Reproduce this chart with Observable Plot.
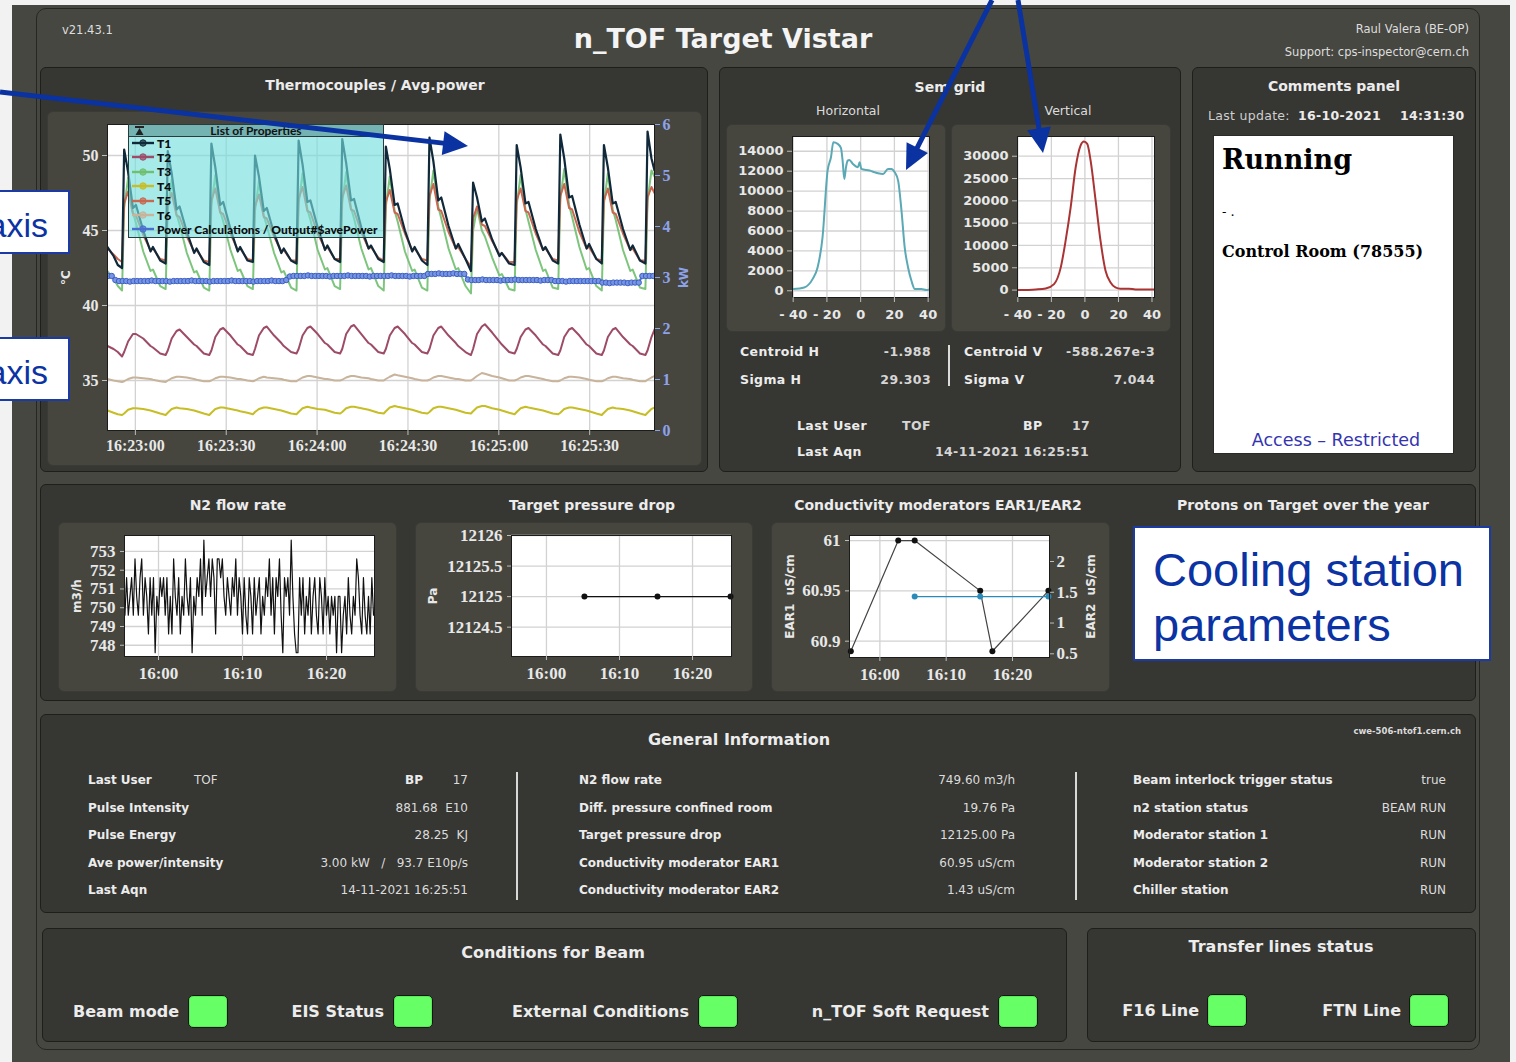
<!DOCTYPE html>
<html>
<head>
<meta charset="utf-8">
<title>n_TOF Target Vistar</title>
<script src="https://cdn.jsdelivr.net/npm/d3@7"></script>
<script src="https://cdn.jsdelivr.net/npm/@observablehq/plot@0.6"></script>
<style>
  html, body { margin: 0; padding: 0; }
  body { width: 1516px; height: 1062px; position: relative; overflow: hidden; background: #f2f2f2;
         font-family: "DejaVu Sans", sans-serif; color: #ececec; }
  .abs { position: absolute; box-sizing: border-box; }
  .screen { background: #474741; }
  .frame { border: 1px solid #262622; border-radius: 10px; }
  .panel { background: #363632; border: 1px solid #1e1e1b; border-radius: 6px; }
  .box { background: #46463f; border: 1px solid #3b3b36; border-radius: 6px; }
  .paper { background: #ffffff; border: 1px solid #2a2a26; }
  .txt { position: absolute; white-space: nowrap; line-height: 1; }
  .led { background: #66ff66; border: 1px solid #151513; border-radius: 5px; box-shadow: inset 0 0 0 1px #5be85b; }
  .note { background: #fff; border: 2px solid #1c3aa6; }
  .legend { background: rgba(118, 222, 222, 0.64); border: 1px solid #2b3b3b; }
  .legend-head { background: rgba(112, 172, 172, 0.9); border-bottom: 1px solid #2b3b3b; }
</style>
</head>
<body>
<script>
// ---------------------------------------------------------------
// Data
// ---------------------------------------------------------------
const versionLabel = "v21.43.1";
const pageTitle = "n_TOF Target Vistar";
const authorLine = "Raul Valera (BE-OP)";
const supportLine = "Support: cps-inspector@cern.ch";

// Thermocouples: seconds relative to 16:23:00 (14-11-2021)
const tcSec = [
  -9.2, -7.2, -5.8,
  -4.4, -3.7, -2.4, -0.8, 0.2, 2.6, 5.0, 5.8, 8.2,
  10.0, 10.7, 12.0, 13.6, 14.6, 17.0, 19.4, 20.2, 22.6,
  24.4, 25.1, 26.4, 28.0, 29.0, 31.4, 33.8, 34.6, 37.0,
  38.8, 39.5, 40.8, 42.4, 43.4, 45.8, 48.2, 49.0, 51.4,
  53.2, 53.9, 55.2, 56.8, 57.8, 60.2, 62.6, 63.4, 65.8,
  67.6, 68.3, 69.6, 71.2, 72.2, 74.6, 77.0, 77.8, 80.2,
  82.0, 82.7, 84.0, 85.6, 86.6, 89.0, 91.4, 92.2, 94.6,
  96.4, 97.1, 98.4, 100.0, 101.0, 103.4, 105.8, 106.6, 109.0,
  110.8, 111.5, 112.8, 114.4, 115.4, 117.8, 120.2, 121.0, 123.4,
  125.2, 125.9, 127.2, 128.8, 129.8, 132.2, 134.6, 135.4, 137.8,
  139.6, 140.3, 141.6, 143.2, 144.2, 146.6, 149.0, 149.8, 152.2,
  154.0, 154.7, 156.0, 157.6, 158.6, 161.0, 163.4, 164.2, 166.6,
  168.4, 169.1, 170.4, 171.4
];
const t1Values = [
  43.9, 43.3, 42.7,
  42.5, 50.4, 48.9, 46.5, 46.7, 45.0, 43.6, 43.9, 43.0,
  42.8, 50.3, 48.8, 46.4, 46.6, 44.9, 43.5, 43.8, 42.9,
  42.7, 50.8, 49.2, 46.7, 46.9, 45.1, 43.6, 43.9, 43.0,
  42.9, 50.0, 48.6, 46.3, 46.5, 44.8, 43.5, 43.8, 43.0,
  42.8, 51.0, 49.4, 46.9, 47.0, 45.2, 43.7, 44.0, 43.1,
  42.9, 51.1, 49.5, 47.0, 47.1, 45.2, 43.8, 44.0, 43.1,
  42.9, 50.6, 49.1, 46.7, 46.8, 45.0, 43.6, 43.9, 43.0,
  42.7, 51.2, 49.6, 47.0, 47.2, 45.3, 43.8, 44.1, 43.1,
  42.3, 48.2, 47.2, 45.6, 45.8, 44.4, 43.3, 43.5, 42.8,
  42.7, 50.7, 49.2, 46.8, 46.9, 45.1, 43.7, 43.9, 43.0,
  42.8, 51.4, 49.8, 47.2, 47.3, 45.4, 43.8, 44.1, 43.1,
  42.8, 50.7, 49.2, 46.8, 46.9, 45.1, 43.7, 44.0, 43.0,
  42.8, 51.6, 49.8, 49.0
];
const t2Values = [
  37.3, 37.1, 36.9,
  36.6, 36.9, 37.6, 38.1, 38.1, 37.8, 37.3, 37.2, 36.8,
  36.7, 37.0, 37.8, 38.3, 38.4, 37.9, 37.4, 37.3, 36.8,
  36.7, 37.0, 37.9, 38.4, 38.5, 38.0, 37.4, 37.3, 36.8,
  36.7, 37.1, 38.0, 38.5, 38.6, 38.0, 37.5, 37.3, 36.9,
  36.8, 37.1, 38.0, 38.5, 38.6, 38.1, 37.5, 37.4, 36.9,
  36.8, 37.1, 38.1, 38.6, 38.7, 38.1, 37.5, 37.4, 36.9,
  36.8, 37.1, 38.0, 38.5, 38.6, 38.1, 37.5, 37.4, 36.9,
  36.8, 37.1, 38.0, 38.5, 38.6, 38.0, 37.5, 37.3, 36.9,
  36.7, 37.1, 38.1, 38.6, 38.75, 38.2, 37.6, 37.4, 36.9,
  36.8, 37.1, 37.9, 38.4, 38.5, 38.0, 37.4, 37.3, 36.8,
  36.7, 37.0, 37.9, 38.4, 38.5, 38.0, 37.4, 37.3, 36.8,
  36.7, 37.0, 37.9, 38.4, 38.5, 37.9, 37.4, 37.3, 36.8,
  36.7, 37.0, 37.9, 38.4
];
const t3Values = [
  42.3, 41.8, 41.3,
  41.0, 46.5, 48.5, 46.2, 45.5, 43.6, 42.3, 42.4, 41.3,
  41.1, 46.4, 48.4, 46.1, 45.4, 43.5, 42.2, 42.3, 41.2,
  41.0, 46.7, 48.7, 46.3, 45.6, 43.7, 42.3, 42.4, 41.3,
  41.1, 46.3, 48.3, 46.0, 45.3, 43.5, 42.2, 42.3, 41.2,
  41.0, 46.8, 48.8, 46.4, 45.7, 43.7, 42.4, 42.5, 41.3,
  41.1, 46.9, 48.9, 46.5, 45.8, 43.8, 42.4, 42.5, 41.3,
  41.0, 46.6, 48.6, 46.3, 45.6, 43.6, 42.3, 42.4, 41.2,
  41.0, 47.0, 49.0, 46.6, 45.8, 43.8, 42.4, 42.5, 41.3,
  40.8, 45.0, 46.5, 45.0, 44.6, 43.2, 42.0, 42.1, 41.1,
  41.0, 46.7, 48.7, 46.4, 45.6, 43.7, 42.3, 42.4, 41.2,
  41.1, 47.1, 49.1, 46.7, 45.9, 43.9, 42.4, 42.5, 41.3,
  41.0, 46.8, 48.8, 46.4, 45.7, 43.7, 42.3, 42.4, 41.2,
  41.1, 47.0, 49.0, 48.6
];
const t4Values = [
  33.0, 32.85, 32.75,
  32.7, 32.8, 33.05, 33.15, 33.15, 33.1, 33.0, 32.95, 32.8,
  32.7, 32.85, 33.1, 33.2, 33.15, 33.1, 33.0, 32.95, 32.8,
  32.7, 32.85, 33.1, 33.2, 33.2, 33.1, 33.0, 32.95, 32.85,
  32.75, 32.9, 33.1, 33.2, 33.2, 33.1, 33.0, 32.95, 32.8,
  32.75, 32.9, 33.15, 33.25, 33.2, 33.1, 33.05, 33.0, 32.85,
  32.8, 32.9, 33.15, 33.25, 33.25, 33.15, 33.05, 33.0, 32.85,
  32.8, 32.95, 33.2, 33.3, 33.25, 33.15, 33.05, 33.0, 32.85,
  32.8, 32.9, 33.15, 33.25, 33.25, 33.15, 33.05, 33.0, 32.85,
  32.8, 32.95, 33.2, 33.3, 33.3, 33.15, 33.05, 33.0, 32.85,
  32.75, 32.9, 33.15, 33.25, 33.2, 33.1, 33.0, 32.95, 32.8,
  32.75, 32.85, 33.1, 33.2, 33.2, 33.1, 33.0, 32.95, 32.8,
  32.7, 32.85, 33.1, 33.2, 33.15, 33.1, 33.0, 32.95, 32.8,
  32.7, 32.85, 33.1, 33.2
];
const t5Values = [
  43.8, 43.4, 43.1,
  42.9, 46.8, 47.6, 46.1, 46.0, 44.7, 43.7, 43.8, 43.1,
  43.0, 46.7, 47.5, 46.0, 45.9, 44.6, 43.6, 43.7, 43.0,
  42.9, 47.0, 47.8, 46.2, 46.1, 44.8, 43.7, 43.8, 43.1,
  43.0, 46.6, 47.4, 45.9, 45.8, 44.6, 43.6, 43.7, 43.0,
  43.0, 47.1, 47.9, 46.3, 46.2, 44.8, 43.8, 43.9, 43.1,
  43.1, 47.2, 48.0, 46.4, 46.3, 44.9, 43.8, 43.9, 43.2,
  43.0, 46.9, 47.7, 46.2, 46.1, 44.8, 43.7, 43.8, 43.1,
  43.0, 47.3, 48.1, 46.4, 46.3, 44.9, 43.8, 43.9, 43.1,
  42.6, 45.8, 46.6, 45.4, 45.3, 44.3, 43.4, 43.5, 42.9,
  42.9, 47.0, 47.8, 46.3, 46.2, 44.8, 43.7, 43.8, 43.1,
  43.0, 47.3, 48.1, 46.5, 46.4, 44.9, 43.8, 43.9, 43.1,
  43.0, 47.0, 47.8, 46.2, 46.1, 44.8, 43.7, 43.8, 43.0,
  43.0, 47.2, 47.9, 47.5
];
const t6Values = [
  35.1, 35.0, 34.95,
  34.9, 34.95, 35.1, 35.2, 35.2, 35.15, 35.1, 35.05, 34.95,
  34.9, 35.0, 35.15, 35.25, 35.25, 35.2, 35.1, 35.05, 34.95,
  34.95, 35.0, 35.15, 35.25, 35.25, 35.2, 35.1, 35.1, 35.0,
  34.95, 35.0, 35.15, 35.25, 35.2, 35.15, 35.1, 35.05, 34.95,
  34.95, 35.05, 35.2, 35.3, 35.3, 35.2, 35.1, 35.1, 35.0,
  35.0, 35.05, 35.2, 35.3, 35.3, 35.2, 35.15, 35.1, 35.0,
  35.0, 35.1, 35.25, 35.4, 35.35, 35.25, 35.15, 35.1, 35.0,
  35.0, 35.05, 35.2, 35.3, 35.3, 35.2, 35.1, 35.1, 35.0,
  35.0, 35.1, 35.3, 35.5, 35.45, 35.3, 35.2, 35.15, 35.0,
  35.0, 35.05, 35.2, 35.3, 35.3, 35.2, 35.1, 35.05, 34.95,
  34.95, 35.0, 35.15, 35.25, 35.25, 35.2, 35.1, 35.05, 34.95,
  34.95, 35.0, 35.15, 35.25, 35.25, 35.15, 35.1, 35.05, 34.95,
  34.95, 35.05, 35.2, 35.3
];
const tcNames = ["T1", "T2", "T3", "T4", "T5", "T6"];
const powerName = "Power Calculations / Output#$avePower";

// Average power (kW), one acquisition every 1.2 s from 16:22:51
const powerStartSec = -9.0;
const powerStepSec = 1.2;
const powerKw = [
  3.03, 3.03, 2.95, 2.93, 2.93, 2.93, 2.92, 2.93, 2.93, 2.93,
  2.93, 2.93, 2.94, 2.93, 2.93, 2.93, 2.93, 2.92, 2.93, 2.93,
  2.93, 2.93, 2.93, 2.94, 2.93, 2.93, 2.93, 2.93, 2.92, 2.93,
  2.93, 2.93, 2.93, 2.93, 2.94, 2.93, 2.93, 2.93, 2.93, 2.93,
  2.92, 2.93, 2.93, 2.93, 2.93, 2.94, 2.93, 2.93, 2.93, 2.95,
  3.02, 3.03, 3.03, 3.03, 3.03, 3.04, 3.03, 3.03, 3.03, 3.03,
  3.03, 3.02, 3.03, 3.03, 3.03, 3.03, 3.04, 3.03, 3.03, 3.03,
  3.03, 3.03, 3.02, 3.03, 3.03, 3.03, 3.03, 3.03, 3.04, 3.03,
  3.03, 3.03, 3.03, 3.02, 3.03, 3.03, 3.03, 3.03, 3.07, 3.07,
  3.07, 3.08, 3.07, 3.07, 3.07, 3.08, 3.07, 3.07, 3.07, 2.96,
  2.95, 2.95, 2.95, 2.96, 2.95, 2.95, 2.95, 2.95, 2.94, 2.95,
  2.95, 2.95, 2.96, 2.95, 2.95, 2.95, 2.95, 2.95, 2.95, 2.94,
  2.95, 2.95, 2.95, 2.93, 2.93, 2.93, 2.92, 2.93, 2.93, 2.93,
  2.93, 2.93, 2.93, 2.93, 2.93, 2.93, 2.90, 2.90, 2.89, 2.90,
  2.90, 2.90, 2.90, 2.89, 2.90, 2.90, 2.90, 3.03, 3.03, 3.03,
  3.03
];
const thermoTickLabels = ["16:23:00", "16:23:30", "16:24:00", "16:24:30", "16:25:00", "16:25:30"];
const tempTicks = [35, 40, 45, 50];
const kwTicks = [0, 1, 2, 3, 4, 5, 6];

// SEM grid beam profiles
const hProfilePos = [-40, -33.5, -28.5, -25.5, -22.6, -19.6, -17.6, -16.2, -13.6, -11.7, -10.7, -9.7, -8.7, -7.7,
  -6.7, -4.6, -1.6, -0.6, 0.4, 5.3, 8.3, 10.3, 13.3, 16.2, 18.2, 20.2, 22.2, 24.2, 26.1, 28.1, 30.1, 32.1, 36, 39, 41.4];
const hProfileCounts = [170, 335, 1170, 2350, 5360, 12060, 13400, 14900, 14740, 14330, 13060, 11220, 12400, 13060,
  13130, 12730, 12400, 12900, 12230, 12060, 11890, 11790, 11720, 12230, 12230, 11890, 11050, 8040, 4350, 2340, 1000, 170, 170, 70, 170];
const vProfilePos = [-40, -29.3, -23.4, -18.4, -14.4, -11.5, -8.5, -5.5, -2.6, -0.6, 1.4, 3.4, 6.4, 9.3, 12.3, 15.3, 18.2, 21.2, 26.2, 30.1, 41.5];
const vProfileCounts = [0, 150, 370, 1350, 5090, 11070, 18550, 27530, 32400, 33290, 32760, 29020, 20050, 11070, 4340, 1720, 600, 300, 300, 150, 150];
const semPosTicks = [-40, -20, 0, 20, 40];
const semHTicks = [0, 2000, 4000, 6000, 8000, 10000, 12000, 14000];
const semVTicks = [0, 5000, 10000, 15000, 20000, 25000, 30000];
const semStatsH = [["Centroid H", "-1.988"], ["Sigma H", "29.303"]];
const semStatsV = [["Centroid V", "-588.267e-3"], ["Sigma V", "7.044"]];

// N2 flow rate (m3/h), one sample every 12 s from 15:56:00
const n2Start = "15:56:00";
const n2StepSec = 12;
const n2Flow = [
  749.6, 751.6, 749.6, 750.6, 751.6, 749.6, 752.6, 750.6, 749.6, 751.6,
  752.6, 749.6, 751.6, 750.6, 748.6, 751.6, 749.6, 751.6, 747.6, 750.6,
  749.6, 751.6, 750.6, 751.6, 749.6, 751.6, 748.6, 750.6, 748.6, 752.6,
  750.6, 749.6, 751.6, 748.6, 750.6, 749.6, 752.6, 750.6, 749.6, 751.6,
  747.6, 750.6, 749.6, 751.6, 750.6, 752.6, 749.6, 753.6, 750.6, 751.6,
  752.6, 750.6, 752.6, 751.6, 748.6, 752.6, 752.6, 751.6, 752.6, 750.6,
  749.6, 751.6, 750.6, 749.6, 751.6, 750.6, 752.6, 749.6, 751.6, 750.6,
  748.6, 751.6, 749.6, 748.6, 751.6, 750.6, 748.6, 751.6, 749.6, 750.6,
  751.6, 748.6, 750.6, 749.6, 751.6, 750.6, 752.6, 749.6, 751.6, 748.6,
  751.6, 750.6, 752.6, 749.6, 747.6, 751.6, 750.6, 751.6, 749.6, 753.6,
  750.6, 748.6, 747.6, 747.6, 751.6, 749.6, 751.6, 748.6, 750.6, 749.6,
  751.6, 748.6, 750.6, 751.6, 749.6, 748.6, 751.6, 750.6, 748.6, 751.6,
  749.6, 750.6, 748.6, 750.6, 749.6, 750.6, 747.6, 750.6, 750.6, 747.6,
  749.6, 750.6, 748.6, 751.6, 749.6, 748.6, 750.6, 749.6, 752.6, 751.6,
  749.6, 748.6, 751.6, 749.6, 748.6, 750.6, 748.6, 751.6, 749.6, 749.6
];
const n2Ticks = [748, 749, 750, 751, 752, 753];
const clockTicks = ["16:00", "16:10", "16:20"];

// Target pressure drop (Pa)
const pressureTimes = ["16:05:12", "16:15:12", "16:25:12"];
const pressureValues = [12125, 12125, 12125];
const pressureTicks = [12124.5, 12125, 12125.5, 12126];

// Moderator conductivity (uS/cm)
const ear1Times = ["15:55:37", "16:02:46", "16:05:15", "16:15:08", "16:16:58", "16:25:25"];
const ear1Values = [60.89, 61.0, 61.0, 60.95, 60.89, 60.95];
const ear2Times = ["16:05:15", "16:15:08", "16:25:25"];
const ear2Values = [1.43, 1.43, 1.43];
const ear1Ticks = [60.9, 60.95, 61];
const ear2Ticks = [0.5, 1, 1.5, 2];

// Comments panel
const commentUpdate = ["Last update:", "16-10-2021", "14:31:30"];
const commentStatus = "Running";
const commentNote = "- .";
const commentContact = "Control Room (78555)";
const commentAccess = "Access \u2013 Restricted";

// General information
const infoHost = "cwe-506-ntof1.cern.ch";
const infoBeamUser = ["Last User", "TOF", "BP", "17"];
const infoCol1 = [["Pulse Intensity", "881.68  E10"], ["Pulse Energy", "28.25  KJ"],
  ["Ave  power/intensity", "3.00 kW   /   93.7 E10p/s"], ["Last Aqn", "14-11-2021 16:25:51"]];
const infoCol2 = [["N2 flow rate", "749.60 m3/h"], ["Diff. pressure confined room", "19.76 Pa"],
  ["Target pressure drop", "12125.00 Pa"], ["Conductivity moderator EAR1", "60.95 uS/cm"],
  ["Conductivity moderator EAR2", "1.43 uS/cm"]];
const infoCol3 = [["Beam interlock trigger status", "true"], ["n2 station status", "BEAM RUN"],
  ["Moderator station 1", "RUN"], ["Moderator station 2", "RUN"], ["Chiller station", "RUN"]];

// Beam conditions and transfer lines (all OK)
const beamConditions = ["Beam mode", "EIS Status", "External Conditions", "n_TOF Soft Request"];
const transferLines = ["F16 Line", "FTN Line"];

// ---------------------------------------------------------------
// Styles
// ---------------------------------------------------------------
const tcColors = {T1: "#10293a", T2: "#9d4b67", T3: "#6fbf6f", T4: "#c6be24", T5: "#c9674f", T6: "#c8b39b"};
const powerColor = "#4a6fd0";
const kwColor = "#8ea2ea";
const axisInk = "#e8e8e8";
const gridInk = "#d2d2d2";
const serifTicks = "'Liberation Serif', 'DejaVu Serif', serif";

// ---------------------------------------------------------------
// Helpers
// ---------------------------------------------------------------
const body = document.body;
const clock = s => {
  const [h, m, sec] = s.split(":").map(Number);
  return new Date(Date.UTC(2021, 10, 14, h, m, sec || 0));
};
const REF = clock("16:23:00");
const fromRef = sec => new Date(REF.getTime() + sec * 1000);

function block(cls, x, y, w, h, parent = body) {
  const d = document.createElement("div");
  d.className = "abs " + cls;
  Object.assign(d.style, {left: x + "px", top: y + "px", width: w + "px", height: h + "px"});
  parent.appendChild(d);
  return d;
}
function text(str, x, y, o = {}) {
  const d = document.createElement("div");
  d.className = "txt";
  d.textContent = str;
  const shift = o.anchor === "middle" ? "-50%" : o.anchor === "end" ? "-100%" : "0";
  d.style.left = x + "px";
  d.style.top = y + "px";
  d.style.transform = `translate(${shift}, -50%)`;
  d.style.fontSize = (o.size ?? 13) + "px";
  d.style.fontWeight = o.weight ?? 700;
  if (o.color) d.style.color = o.color;
  if (o.family) d.style.fontFamily = o.family;
  if (o.spacing) d.style.letterSpacing = o.spacing + "px";
  (o.parent ?? body).appendChild(d);
  return d;
}
function mount(svg, x, y, w, h) {
  const holder = block("", x, y, w, h);
  holder.appendChild(svg);
  return holder;
}
const plotStyle = (size, family) =>
  `background: transparent; color: ${axisInk}; font: bold ${size}px ${family}; overflow: visible;`;
// rotated axis title, centred on the frame's side
const sideTitle = (label, side, dx, fill = axisInk) =>
  Plot.text([label], {text: d => d, frameAnchor: side, dx, rotate: -90, textAnchor: "middle",
    fontSize: 12, fontWeight: "bold", fontFamily: "DejaVu Sans", fill});

// ---------------------------------------------------------------
// Screen and panels
// ---------------------------------------------------------------
block("screen", 12, 5, 1498, 1057);
block("frame", 36, 8, 1444, 1042);
block("panel", 40, 67, 668, 405);
block("panel", 719, 67, 462, 405);
block("panel", 1192, 67, 284, 405);
block("panel", 40, 484, 1436, 217);
block("panel", 40, 714, 1436, 199);
block("panel", 42, 928, 1025, 114);
block("panel", 1087, 928, 389, 114);

block("box", 47, 111, 655, 355);
block("box", 726, 124, 220, 208);
block("box", 951, 124, 220, 208);
block("box", 58, 522, 339, 170);
block("box", 415, 522, 338, 170);
block("box", 771, 522, 339, 170);

// Header
text(versionLabel, 62, 31, {size: 11.5, weight: 400, color: "#dedede"});
text(pageTitle, 723, 38, {size: 27, anchor: "middle", color: "#f4f4f4"});
text(authorLine, 1469, 30, {size: 11.5, weight: 400, anchor: "end", color: "#dedede"});
text(supportLine, 1469, 53, {size: 11.5, weight: 400, anchor: "end", color: "#dedede"});

// ---------------------------------------------------------------
// Thermocouples / average power (two y axes: degC left, kW right)
// ---------------------------------------------------------------
const tempDomain = [31.667, 52.067];
const kwDomain = [0, 6];
const kwToC = kw => tempDomain[0] + (kw - kwDomain[0]) * (tempDomain[1] - tempDomain[0]) / (kwDomain[1] - kwDomain[0]);
const cToKw = c => kwDomain[0] + (c - tempDomain[0]) * (kwDomain[1] - kwDomain[0]) / (tempDomain[1] - tempDomain[0]);
const tcValues = {T1: t1Values, T2: t2Values, T3: t3Values, T4: t4Values, T5: t5Values, T6: t6Values};
const thermoTicks = thermoTickLabels.map(clock);
const drawOrder = ["T6", "T4", "T2", "T3", "T5", "T1"];

const thermo = Plot.plot({
  width: 655, height: 355,
  marginLeft: 60, marginRight: 48, marginTop: 13, marginBottom: 36,
  style: plotStyle(16, serifTicks),
  x: {type: "utc", domain: [fromRef(-9.2), fromRef(171.4)]},
  y: {domain: tempDomain},
  marks: [
    Plot.frame({fill: "white"}),
    Plot.gridX(thermoTicks, {stroke: gridInk, strokeOpacity: 1, strokeWidth: 1.3}),
    Plot.gridY(tempTicks, {stroke: gridInk, strokeOpacity: 1, strokeWidth: 1.3}),
    ...drawOrder.map(name => Plot.line(tcSec, {
      x: s => fromRef(s), y: (_, i) => tcValues[name][i],
      stroke: tcColors[name], strokeWidth: name === "T1" ? 2.2 : 2, strokeOpacity: name === "T3" ? 0.9 : 1, clip: true
    })),
    Plot.line(powerKw, {x: (_, i) => fromRef(powerStartSec + i * powerStepSec), y: kw => kwToC(kw),
      stroke: powerColor, strokeWidth: 2, clip: true}),
    Plot.dot(powerKw, {x: (_, i) => fromRef(powerStartSec + i * powerStepSec), y: kw => kwToC(kw),
      r: 2.7, fill: "#7895e4", stroke: "#3b5fc4", strokeWidth: 1, clip: true}),
    Plot.frame({stroke: "#1c1c1c"}),
    Plot.axisX(thermoTicks, {tickFormat: d3.utcFormat("%H:%M:%S"), tickSize: 5, tickPadding: 4, stroke: "#bdbdbd", label: null}),
    Plot.axisY(tempTicks, {anchor: "left", tickSize: 5, tickPadding: 4, stroke: "#bdbdbd", label: null}),
    Plot.axisY(kwTicks.map(kwToC), {anchor: "right", tickSize: 5, tickPadding: 3, stroke: kwColor, fill: kwColor,
      tickFormat: c => String(Math.round(cToKw(c))), label: null}),
    sideTitle("\u00b0C", "left", -41),
    sideTitle("kW", "right", 30, kwColor)
  ]
});
mount(thermo, 47, 111, 655, 355);
text("Thermocouples / Avg.power", 375, 85, {size: 14, anchor: "middle"});

// Series legend floating over the plot
const legend = block("legend", 128, 124, 256, 114);
const head = block("legend-head", 0, 0, 254, 12, legend);
head.innerHTML = `<svg width="12" height="11" style="position:absolute;left:5px;top:0"><rect x="1" y="1" width="9" height="2" fill="#222"/><path d="M5.5 3 L9.5 10 L1.5 10 Z" fill="#222"/></svg>`;
text("List of Properties", 127, 6, {size: 12, anchor: "middle", color: "#111", family: "Lato, sans-serif", parent: head});
const legendEntries = [...tcNames.map(n => [n, tcColors[n]]), [powerName, powerColor]];
legendEntries.forEach(([name, color], i) => {
  const row = block("", 2, 11 + i * 14.4, 250, 14, legend);
  row.innerHTML = `<svg width="24" height="14" style="position:absolute;left:0;top:0"><line x1="1" y1="7" x2="23" y2="7" stroke="${color}" stroke-width="2.4"/><circle cx="12" cy="7" r="3.2" fill="${color}" stroke="${color}" fill-opacity="0.7"/></svg>`;
  text(name, 26, 7.5, {size: 12, weight: 900, color: "#0c0c0c", family: "Lato, sans-serif", parent: row});
});

// ---------------------------------------------------------------
// SEM grid profiles
// ---------------------------------------------------------------
const fmtInt = d3.format("d");
function semPlot(pos, counts, yDomain, yTicks, xDomain, color, marginLeft, marginRight) {
  return Plot.plot({
    width: 220, height: 208,
    marginLeft, marginRight, marginTop: 12, marginBottom: 35,
    style: plotStyle(13, "'DejaVu Sans', sans-serif"),
    x: {domain: xDomain}, y: {domain: yDomain},
    marks: [
      Plot.frame({fill: "white"}),
      Plot.gridX(semPosTicks, {stroke: gridInk, strokeOpacity: 1, strokeWidth: 1.3}),
      Plot.gridY(yTicks, {stroke: gridInk, strokeOpacity: 1, strokeWidth: 1.3}),
      Plot.line(pos, {x: d => d, y: (_, i) => counts[i], stroke: color, strokeWidth: 2, curve: "monotone-x", clip: true}),
      Plot.frame({stroke: "#1c1c1c"}),
      Plot.axisX(semPosTicks, {tickFormat: d => String(d).replace("-", "- "), tickSize: 5, tickPadding: 7, stroke: "#bdbdbd", label: null}),
      Plot.axisY(yTicks, {tickFormat: fmtInt, tickSize: 5, tickPadding: 4, stroke: "#bdbdbd", label: null})
    ]
  });
}
mount(semPlot(hProfilePos, hProfileCounts, [-675, 15480], semHTicks, [-40.4, 40.8], "#5aa9b5", 66, 17), 726, 124, 220, 208);
mount(semPlot(vProfilePos, vProfileCounts, [-1660, 34420], semVTicks, [-40.2, 41.5], "#aa3333", 66, 17), 951, 124, 220, 208);

text("Sem grid", 950, 87, {size: 14, anchor: "middle"});
text("Horizontal", 848, 111, {size: 12.5, weight: 400, anchor: "middle", color: "#dcdcdc"});
text("Vertical", 1068, 111, {size: 12.5, weight: 400, anchor: "middle", color: "#dcdcdc"});
semStatsH.forEach(([k, v], i) => {
  text(k, 740, 352 + i * 28, {size: 12.5, spacing: 0.4});
  text(v, 931, 352 + i * 28, {size: 12.5, anchor: "end", color: "#d6d6d6", spacing: 0.4});
});
semStatsV.forEach(([k, v], i) => {
  text(k, 964, 352 + i * 28, {size: 12.5, spacing: 0.4});
  text(v, 1155, 352 + i * 28, {size: 12.5, anchor: "end", color: "#d6d6d6", spacing: 0.4});
});
block("", 948, 345, 2, 41).style.background = "#dcdcdc";
text(infoBeamUser[0], 797, 426, {size: 12.5, spacing: 0.4});
text(infoBeamUser[1], 902, 426, {size: 12.5, color: "#d6d6d6", spacing: 0.4});
text(infoBeamUser[2], 1023, 426, {size: 12.5, spacing: 0.4});
text(infoBeamUser[3], 1072, 426, {size: 12.5, color: "#d6d6d6", spacing: 0.4});
text(infoCol1[3][0], 797, 452, {size: 12.5, spacing: 0.4});
text(infoCol1[3][1], 1089, 452, {size: 12.5, anchor: "end", color: "#d6d6d6", spacing: 0.4});

// ---------------------------------------------------------------
// Comments panel
// ---------------------------------------------------------------
text("Comments panel", 1334, 86, {size: 14, anchor: "middle"});
text(commentUpdate[0], 1208, 116, {size: 12.5, weight: 400, color: "#cfcfcf", spacing: 0.3});
text(commentUpdate[1], 1298, 116, {size: 12.5, spacing: 0.3});
text(commentUpdate[2], 1400, 116, {size: 12.5, spacing: 0.3});
block("paper", 1213, 135, 241, 319);
text(commentStatus, 1222, 159, {size: 27, family: "'DejaVu Serif', serif", color: "#000"});
text(commentNote, 1222, 211, {size: 13, weight: 400, family: "'DejaVu Serif', serif", color: "#000"});
text(commentContact, 1222, 252, {size: 16, family: "'DejaVu Serif', serif", color: "#000"});
text(commentAccess, 1336, 441, {size: 17.5, weight: 400, anchor: "middle", color: "#3434b0"});

// ---------------------------------------------------------------
// N2 flow rate
// ---------------------------------------------------------------
const n2T0 = clock(n2Start);
const n2 = Plot.plot({
  width: 339, height: 170,
  marginLeft: 66, marginRight: 23, marginTop: 13, marginBottom: 36,
  style: plotStyle(17, serifTicks),
  x: {type: "utc", domain: [clock("15:55:57"), clock("16:25:43")]},
  y: {domain: [747.4, 753.85]},
  marks: [
    Plot.frame({fill: "white"}),
    Plot.gridX(clockTicks.map(clock), {stroke: gridInk, strokeOpacity: 1, strokeWidth: 1.3}),
    Plot.gridY(n2Ticks, {stroke: gridInk, strokeOpacity: 1, strokeWidth: 1.3}),
    Plot.line(n2Flow, {x: (_, i) => new Date(n2T0.getTime() + i * n2StepSec * 1000), y: d => d,
      stroke: "#111", strokeWidth: 1.2, clip: true}),
    Plot.frame({stroke: "#1c1c1c"}),
    Plot.axisX(clockTicks.map(clock), {tickFormat: d3.utcFormat("%H:%M"), tickSize: 4, tickPadding: 6, stroke: "#bdbdbd", label: null}),
    Plot.axisY(n2Ticks, {tickFormat: fmtInt, tickSize: 4, tickPadding: 5, stroke: "#bdbdbd", label: null}),
    sideTitle("m3/h", "left", -47)
  ]
});
mount(n2, 58, 522, 339, 170);

// ---------------------------------------------------------------
// Target pressure drop
// ---------------------------------------------------------------
const pressure = Plot.plot({
  width: 338, height: 170,
  marginLeft: 96, marginRight: 22, marginTop: 13, marginBottom: 36,
  style: plotStyle(17, serifTicks),
  x: {type: "utc", domain: [clock("15:55:13"), clock("16:25:20")]},
  y: {domain: [12124.02, 12126]},
  marks: [
    Plot.frame({fill: "white"}),
    Plot.gridX(clockTicks.map(clock), {stroke: gridInk, strokeOpacity: 1, strokeWidth: 1.3}),
    Plot.gridY(pressureTicks, {stroke: gridInk, strokeOpacity: 1, strokeWidth: 1.3}),
    Plot.line(pressureValues, {x: (_, i) => clock(pressureTimes[i]), y: d => d, stroke: "#111", strokeWidth: 1.2}),
    Plot.dot(pressureValues, {x: (_, i) => clock(pressureTimes[i]), y: d => d, r: 3, fill: "#111"}),
    Plot.frame({stroke: "#1c1c1c"}),
    Plot.axisX(clockTicks.map(clock), {tickFormat: d3.utcFormat("%H:%M"), tickSize: 4, tickPadding: 6, stroke: "#bdbdbd", label: null}),
    Plot.axisY(pressureTicks, {tickFormat: d => String(d), tickSize: 4, tickPadding: 5, stroke: "#bdbdbd", label: null}),
    sideTitle("Pa", "left", -78)
  ]
});
mount(pressure, 415, 522, 338, 170);

// ---------------------------------------------------------------
// Moderator conductivity (EAR1 left axis, EAR2 right axis)
// ---------------------------------------------------------------
const ear1Domain = [60.8838, 61.005];
const ear2Domain = [0.44, 2.4226];
const ear2ToEar1 = v => ear1Domain[0] + (v - ear2Domain[0]) * (ear1Domain[1] - ear1Domain[0]) / (ear2Domain[1] - ear2Domain[0]);
const ear1ToEar2 = v => ear2Domain[0] + (v - ear1Domain[0]) * (ear2Domain[1] - ear2Domain[0]) / (ear1Domain[1] - ear1Domain[0]);
const conductivity = Plot.plot({
  width: 339, height: 170,
  marginLeft: 78, marginRight: 61, marginTop: 13, marginBottom: 35,
  style: plotStyle(17, serifTicks),
  x: {type: "utc", domain: [clock("15:55:25"), clock("16:25:35")]},
  y: {domain: ear1Domain},
  marks: [
    Plot.frame({fill: "white"}),
    Plot.gridX(clockTicks.map(clock), {stroke: gridInk, strokeOpacity: 1, strokeWidth: 1.3}),
    Plot.gridY(ear1Ticks, {stroke: gridInk, strokeOpacity: 1, strokeWidth: 1.3}),
    Plot.line(ear1Values, {x: (_, i) => clock(ear1Times[i]), y: d => d, stroke: "#444", strokeWidth: 1.2}),
    Plot.dot(ear1Values, {x: (_, i) => clock(ear1Times[i]), y: d => d, r: 3, fill: "#111"}),
    Plot.line(ear2Values, {x: (_, i) => clock(ear2Times[i]), y: d => ear2ToEar1(d), stroke: "#2a8bbb", strokeWidth: 1.4}),
    Plot.dot(ear2Values, {x: (_, i) => clock(ear2Times[i]), y: d => ear2ToEar1(d), r: 3, fill: "#2a8bbb"}),
    Plot.frame({stroke: "#1c1c1c"}),
    Plot.axisX(clockTicks.map(clock), {tickFormat: d3.utcFormat("%H:%M"), tickSize: 4, tickPadding: 6, stroke: "#bdbdbd", label: null}),
    Plot.axisY(ear1Ticks, {anchor: "left", tickFormat: d => String(d), tickSize: 4, tickPadding: 5, stroke: "#bdbdbd", label: null}),
    Plot.axisY(ear2Ticks.map(ear2ToEar1), {anchor: "right", tickFormat: c => String(Math.round(ear1ToEar2(c) * 10) / 10),
      tickSize: 4, tickPadding: 3, stroke: "#bdbdbd", label: null}),
    sideTitle("EAR1  uS/cm", "left", -59),
    sideTitle("EAR2  uS/cm", "right", 42)
  ]
});
mount(conductivity, 771, 522, 339, 170);

text("N2 flow rate", 238, 505, {size: 14, anchor: "middle"});
text("Target pressure drop", 592, 505, {size: 14, anchor: "middle"});
text("Conductivity moderators EAR1/EAR2", 938, 505, {size: 14, anchor: "middle"});
text("Protons on Target over the year", 1303, 505, {size: 14, anchor: "middle"});

// ---------------------------------------------------------------
// General information
// ---------------------------------------------------------------
text("General Information", 739, 740, {size: 16, anchor: "middle"});
text(infoHost, 1461, 731, {size: 8.5, anchor: "end", color: "#dcdcdc"});
const rowY = i => 780 + i * 27.5;
text(infoBeamUser[0], 88, rowY(0), {size: 12});
text(infoBeamUser[1], 194, rowY(0), {size: 12, weight: 400, color: "#dcdcdc"});
text(infoBeamUser[2], 405, rowY(0), {size: 12});
text(infoBeamUser[3], 468, rowY(0), {size: 12, weight: 400, anchor: "end", color: "#dcdcdc"});
infoCol1.forEach(([k, v], i) => {
  text(k, 88, rowY(i + 1), {size: 12});
  text(v, 468, rowY(i + 1), {size: 12, weight: 400, anchor: "end", color: "#dcdcdc"}).style.whiteSpace = "pre";
});
infoCol2.forEach(([k, v], i) => {
  text(k, 579, rowY(i), {size: 12});
  text(v, 1015, rowY(i), {size: 12, weight: 400, anchor: "end", color: "#dcdcdc"});
});
infoCol3.forEach(([k, v], i) => {
  text(k, 1133, rowY(i), {size: 12});
  text(v, 1446, rowY(i), {size: 12, weight: 400, anchor: "end", color: "#dcdcdc"});
});
block("", 516, 772, 2, 128).style.background = "#d8d8d8";
block("", 1075, 772, 2, 128).style.background = "#d8d8d8";

// ---------------------------------------------------------------
// Beam conditions / transfer lines
// ---------------------------------------------------------------
text("Conditions for Beam", 553, 953, {size: 16, anchor: "middle"});
text("Transfer lines status", 1281, 947, {size: 16, anchor: "middle"});
const ledX = [188, 393, 698, 998];
beamConditions.forEach((name, i) => {
  text(name, ledX[i] - 9, 1012, {size: 16, anchor: "end"});
  block("led", ledX[i], 995, 40, 33);
});
const lineLedX = [1207, 1409];
transferLines.forEach((name, i) => {
  text(name, lineLedX[i] - 8, 1011, {size: 16, anchor: "end"});
  block("led", lineLedX[i], 994, 40, 33);
});

// ---------------------------------------------------------------
// Call-outs drawn on top of the screen
// ---------------------------------------------------------------
const calloutFont = "'Liberation Sans', Arial, sans-serif";
function axisCallout(y) {
  const b = block("note", -4, y, 74, 64);
  b.style.overflow = "hidden";
  const t = text("axis", 0, 33, {size: 34, weight: 400, color: "#0b33a3", family: calloutFont, parent: b});
  t.style.left = "auto"; t.style.right = "20px"; t.style.transform = "translate(0,-50%)";
}
axisCallout(190);
axisCallout(337);
const cooling = block("note", 1133, 526, 358, 135);
["Cooling station", "parameters"].forEach((ln, i) =>
  text(ln, 18, 41 + i * 55, {size: 47, weight: 400, color: "#0b33a3", family: calloutFont, parent: cooling}));

const ns = "http://www.w3.org/2000/svg";
const arrows = document.createElementNS(ns, "svg");
arrows.setAttribute("width", 1516);
arrows.setAttribute("height", 1062);
arrows.style.cssText = "position:absolute;left:0;top:0;pointer-events:none";
const arrowSpecs = [[[0, 92], [468, 146]], [[992, 0], [906, 170]], [[1018, 0], [1043, 153]]];
arrowSpecs.forEach(([[x0, y0], [x1, y1]]) => {
  const len = Math.hypot(x1 - x0, y1 - y0), ux = (x1 - x0) / len, uy = (y1 - y0) / len;
  const L = 25, W = 12, bx = x1 - ux * L, by = y1 - uy * L;
  const line = document.createElementNS(ns, "line");
  Object.entries({x1: x0, y1: y0, x2: bx + ux * 2, y2: by + uy * 2, stroke: "#0a32a0", "stroke-width": 5}).forEach(([k, v]) => line.setAttribute(k, v));
  const head = document.createElementNS(ns, "polygon");
  head.setAttribute("points", `${x1},${y1} ${bx - uy * W},${by + ux * W} ${bx + uy * W},${by - ux * W}`);
  head.setAttribute("fill", "#0a32a0");
  arrows.append(line, head);
});
body.appendChild(arrows);
</script>
</body>
</html>
